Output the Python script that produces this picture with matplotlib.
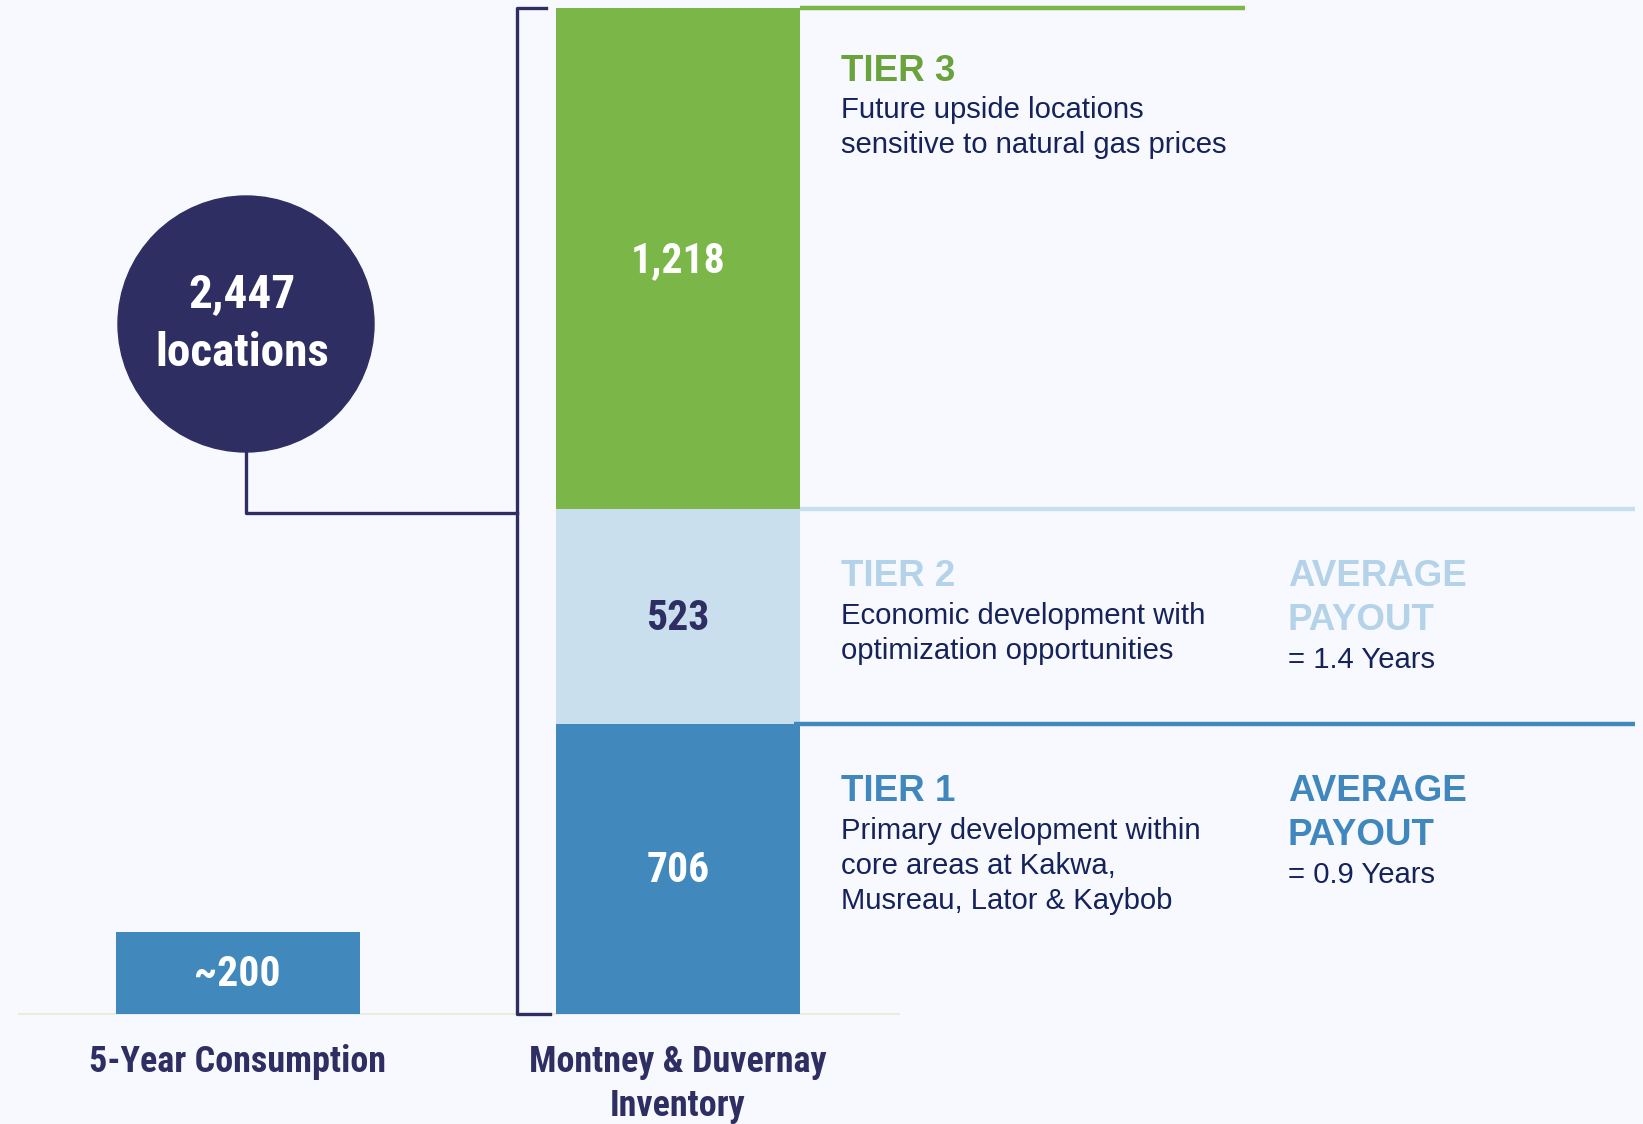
import matplotlib
matplotlib.use("Agg")
import matplotlib.pyplot as plt
from matplotlib import font_manager
from matplotlib.patches import Ellipse

# data
consumption_label = "5-Year Consumption"
consumption_value = 200
inventory_label = ["Montney & Duvernay", "Inventory"]
tier_names = ["TIER 1", "TIER 2", "TIER 3"]
tier_values = [706, 523, 1218]
tier_desc = [
    ["Primary development within", "core areas at Kakwa,", "Musreau, Lator & Kaybob"],
    ["Economic development with", "optimization opportunities"],
    ["Future upside locations", "sensitive to natural gas prices"],
]
tier_payout = ["= 0.9 Years", "= 1.4 Years", None]
total_locations = sum(tier_values)

# colours
bg = "#f8f9fe"
navy = "#2e2e62"
text_navy = "#15235a"
bar_colors = ["#4189bd", "#c9dfee", "#7ab648"]
head_colors = ["#3f87bd", "#b5d3e8", "#6aa23c"]
num_colors = ["white", navy, "white"]
header_gap = [68, 68, 63]  # px from segment top to tier header

names = {f.name for f in font_manager.fontManager.ttflist}
narrow = next((n for n in ["Liberation Sans Narrow", "Arial Narrow", "Roboto Condensed",
                           "Archivo Narrow", "PT Sans Narrow"] if n in names), "DejaVu Sans")
regular = next((n for n in ["Liberation Sans", "Arimo"] if n in names), "DejaVu Sans")

PX = 0.411  # pixels per location
LINE = 35 / PX  # body line spacing in units
fig = plt.figure(figsize=(16.43, 11.24), dpi=100, facecolor=bg)
ax = fig.add_axes([0, 0, 1, 1])
ax.set_facecolor(bg)
ax.set_xlim(0, 1643)
ax.set_ylim(-110 / PX, 1014 / PX)
ax.axis("off")

x_left, x_main, bar_w = 237.5, 678, 244
num_kw = dict(ha="center", va="center", fontsize=30, fontweight="bold", family=narrow)

# baseline
ax.plot([19, 899], [0, 0], color="#e6efdc", lw=1.5, zorder=1)

# 5-year consumption bar
ax.bar(x_left, consumption_value, width=bar_w, color=bar_colors[0], zorder=2)
ax.text(x_left, consumption_value / 2 - 5, f"~{consumption_value}", color="white", **num_kw)

# stacked inventory bar
bottom = 0
for i, v in enumerate(tier_values):
    ax.bar(x_main, v, width=bar_w, bottom=bottom, color=bar_colors[i], zorder=2)
    ax.text(x_main, bottom + v / 2 - 5, f"{v:,}", color=num_colors[i], **num_kw)
    top = bottom + v
    # separator line to the right
    x_end = 1245 if i == 2 else 1635
    x_start = 794 if i == 0 else 800
    ax.plot([x_start, x_end], [top, top], color=bar_colors[i], lw=3.2, zorder=3,
            solid_capstyle="butt")
    # descriptions
    hy = top - header_gap[i] / PX
    ax.text(841, hy, tier_names[i], ha="left", va="center", color=head_colors[i],
            fontsize=26.5, fontweight="bold", family=regular)
    for k, line in enumerate(tier_desc[i]):
        ax.text(841, hy - 39 / PX - k * LINE, line, ha="left", va="center",
                color=text_navy, fontsize=21.1, family=regular)
    if tier_payout[i]:
        ax.text(1288, hy, "AVERAGE", ha="left", va="center", color=head_colors[i],
                fontsize=26.5, fontweight="bold", family=regular)
        ax.text(1288, hy - 44 / PX, "PAYOUT", ha="left", va="center", color=head_colors[i],
                fontsize=26.5, fontweight="bold", family=regular)
        ax.text(1288, hy - 83 / PX, tier_payout[i], ha="left", va="center", color=text_navy,
                fontsize=21.1, family=regular)
    bottom = top

# bracket
top_y = bottom
ax.plot([546, 517, 517, 550], [top_y, top_y, 0, 0], color=navy, lw=2.4,
        solid_joinstyle="round", zorder=3)

# circle with total
cx, cy, r = 246, (1014 - 324) / PX, 128
ax.plot([cx, cx, 517], [cy - r / PX, 501 / PX, 501 / PX], color=navy, lw=2.4, zorder=1)
ax.add_patch(Ellipse((cx, cy), 2 * r, 2 * r / PX, color=navy, zorder=2))
ax.text(cx - 4, cy + 30 / PX, f"{total_locations:,}", ha="center", va="center", color="white",
        fontsize=34, fontweight="bold", family=narrow)
ax.text(cx - 4, cy - 29 / PX, "locations", ha="center", va="center", color="white",
        fontsize=34, fontweight="bold", family=narrow)

# category labels
lab_kw = dict(ha="center", va="center", color=navy, fontsize=26, fontweight="bold", family=narrow)
ax.text(x_left, -48 / PX, consumption_label, **lab_kw)
for k, line in enumerate(inventory_label):
    ax.text(x_main, -48 / PX - k * 44 / PX, line, **lab_kw)

fig.savefig("out.png", dpi=100, facecolor=bg)
